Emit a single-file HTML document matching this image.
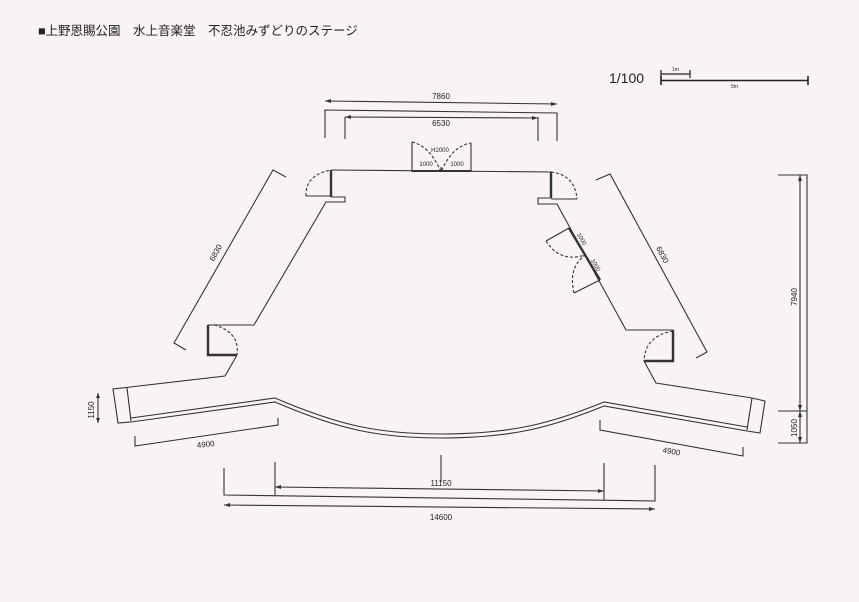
<!DOCTYPE html>
<html><head><meta charset="utf-8"><style>
html,body{margin:0;padding:0;background:#f9f3f7;}
svg{display:block;}
text{font-family:"Liberation Sans","Noto Sans CJK JP",sans-serif;fill:#222;}
</style></head><body>
<svg width="859" height="602" viewBox="0 0 859 602" xmlns="http://www.w3.org/2000/svg">
<rect width="859" height="602" fill="#f9f3f7"/>
<text x="38" y="35" font-size="12.5">■上野恩賜公園　水上音楽堂　不忍池みずどりのステージ</text>
<text x="609" y="83" font-size="14">1/100</text>
<g stroke="#222" fill="none" stroke-width="1.2">
<path d="M661,70V78M661,74H690M690,70V78"/>
<path d="M661,76V85M661,80.5H808M808,76V85" stroke-width="1.6"/>
</g>
<text x="672" y="71" font-size="5">1m</text>
<text x="731" y="88" font-size="5">5m</text>

<g stroke="#333" fill="none" stroke-width="1.1">
<path d="M331,170L551,172"/>
<path d="M331,197H345V202H326L254,325H208"/>
<path d="M237,355L225,376L113,389L118,423L131,422"/>
<path d="M127,388L131,421"/>
<path d="M551,198H538V204H557L626,330H673"/>
<path d="M644,361L656,383L752,398L765,401L760,433L747,431"/>
<path d="M752,398L747,430"/>
<path d="M131,422L275,402C340,430 380,438 441,438C510,438 550,428 604,406L747,431"/>
<path d="M131,418L275,398C340,426 380,434 441,434C510,434 550,424 604,402L747,427"/>
<path d="M331,170V197M551,172V198M208,325V355H237M673,330V361H644M569,228L600,280" stroke-width="2.4"/>
<path d="M306,196H331M551,199H577M569,228L546,241M600,280L574,293"/>
<path d="M306,196Q305,175 331,170M551,172Q575,175 577,199M214,325Q240,332 237,355M673,331Q645,336 644,361M546,241Q560,263 585,255M574,293Q568,268 585,255" stroke-dasharray="3,2"/>
<path d="M412,172V142M471,172V143"/>
<path d="M412,142Q430,146 441,172Q452,146 471,143" stroke-dasharray="3,2"/>
<path d="M412,171H471" stroke-width="2"/>
<path d="M441,167V172"/>
<path d="M325,138V110L557,113V141"/>
<path d="M345,139V117M538,141V117"/>
<path d="M325,101L557,104M345,117L538,118"/>
<path d="M286,177L273,170L174,343L186,350"/>
<path d="M596,180L610,174L707,352L696,358"/>
<path d="M778,175H807V443H778M778,411H807M800,175V443"/>
<path d="M98,393V423"/>
<path d="M135,436V446L278,425V418"/>
<path d="M600,420V430L743,456V447"/>
<path d="M441,455V482M275,462V495M604,463V500M224,468V495L655,501V465"/>
<path d="M275,487L604,491M224,505L655,509"/>
</g>
<g fill="#333">
<path d="M325,101l6,-2v4z M557,104l-6,-2v4z M345,117l6,-2v4z M538,118l-6,-2v4z"/>
<path d="M275,487l6,-2v4z M604,491l-6,-2v4z M224,505l6,-2v4z M655,509l-6,-2v4z"/>
<path d="M800,175l-2,6h4z M800,411l-2,-6h4z M800,411l-2,6h4z M800,443l-2,-6h4z M98,393l-2,5h4z M98,423l-2,-5h4z"/>
</g>
<g font-size="8">
<text x="441" y="99" text-anchor="middle">7860</text>
<text x="441" y="126" text-anchor="middle">6530</text>
<text x="440" y="152" text-anchor="middle" font-size="6">H2000</text>
<text x="426" y="166" text-anchor="middle" font-size="6">1000</text>
<text x="457" y="166" text-anchor="middle" font-size="6">1000</text>
<text transform="translate(218,254) rotate(-62)" text-anchor="middle">6830</text>
<text transform="translate(660,256) rotate(62)" text-anchor="middle">6830</text>
<text transform="translate(580,240) rotate(60)" text-anchor="middle" font-size="6">1000</text>
<text transform="translate(594,266) rotate(60)" text-anchor="middle" font-size="6">1000</text>
<text transform="translate(797,297) rotate(-90)" text-anchor="middle">7940</text>
<text transform="translate(797,428) rotate(-90)" text-anchor="middle">1050</text>
<text transform="translate(94,410) rotate(-90)" text-anchor="middle">1150</text>
<text transform="translate(206,447) rotate(-6)" text-anchor="middle">4900</text>
<text transform="translate(671,454) rotate(10)" text-anchor="middle">4900</text>
<text x="441" y="486" text-anchor="middle">11150</text>
<text x="441" y="520" text-anchor="middle">14600</text>
</g>
</svg>
</body></html>
